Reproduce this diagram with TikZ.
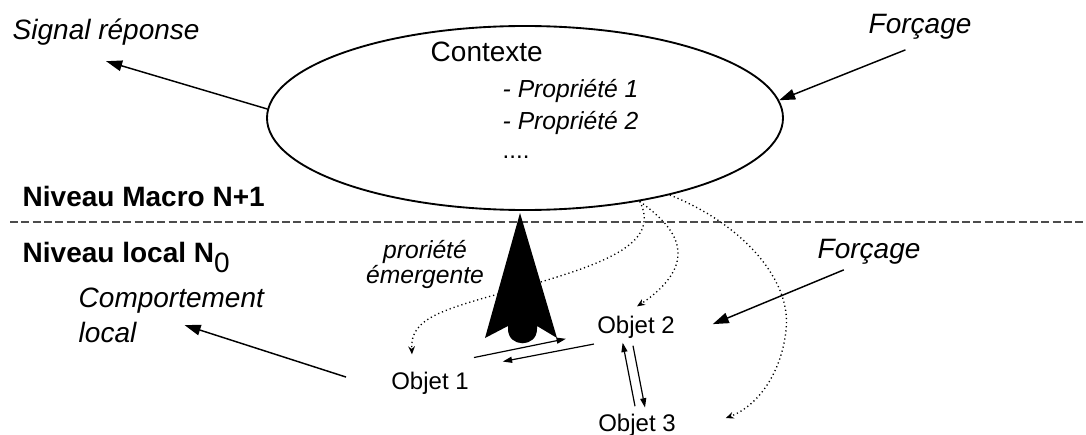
\documentclass[tikz,border=0pt]{standalone}
\usepackage{fontspec}
\setmainfont{Liberation Sans}
\usetikzlibrary{arrows.meta,shapes.geometric}

\begin{document}
\begin{tikzpicture}[x=0.75pt, y=-0.75pt, line width=1.1pt,
  gros/.style={font=\fontsize{21}{26}\selectfont, inner sep=0pt},
  grosit/.style={font=\fontsize{21}{26.25}\selectfont\itshape, inner sep=0pt},
  petit/.style={font=\fontsize{18}{21}\selectfont, inner sep=0pt},
  fleche/.style={-{Triangle[length=12pt,width=8pt]}},
  fine/.style={line width=0.9pt, -{Triangle[length=7pt,width=4.5pt]}},
  pointille/.style={line width=1pt, dash pattern=on 0.9pt off 2.2pt,
    -{Stealth[length=6pt,width=5pt]}}]

  \useasboundingbox (0,0) rectangle (1086,435);

  % The context (level N+1)
  \node[ellipse, draw, line width=1.4pt, minimum width=387pt, minimum height=138pt]
    (ctx) at (525,118) {};
  \node[gros, anchor=base west] (ctxname) at (430,62) {Contexte};
  \node[petit, font=\fontsize{18.5}{21}\selectfont\itshape, anchor=base west]
    (prop1) at (502,98) {- Propriété 1};
  \node[petit, font=\fontsize{18.5}{21}\selectfont\itshape, anchor=base west]
    (prop2) at (502,130) {- Propriété 2};
  \node[petit, anchor=base west] (propdots) at (502,158) {....};

  % Labels outside
  \node[grosit, anchor=base west] (signal) at (12,40) {Signal réponse};
  \node[grosit, anchor=base west] (force1) at (868,34) {Forçage};
  \node[grosit, anchor=base west] (force2) at (817,258) {Forçage};
  \node[grosit, align=left, anchor=north west] (comp) at (78,287) {Comportement\\local};
  \node[font=\fontsize{18.5}{17.25}\selectfont\itshape, inner sep=0pt, align=center,
    anchor=north] (emerg) at (425,240) {proriété\\émergente};

  % The two levels
  \node[gros, font=\fontsize{21}{26}\selectfont\bfseries, anchor=base west]
    (macro) at (22,206) {Niveau Macro N+1};
  \node[gros, font=\fontsize{21}{26}\selectfont\bfseries, anchor=base west]
    (local) at (22,262) {Niveau local N\raisebox{-8pt}{\mdseries 0}};
  \draw[black!70, line width=1pt, dash pattern=on 6pt off 2.5pt] (10,222) -- (1086,222);

  % Objects of level N0
  \node[petit, anchor=base] (obj1) at (430,389) {Objet 1};
  \node[petit, anchor=base] (obj2) at (636,333) {Objet 2};
  \node[petit, anchor=base] (obj3) at (637,431) {Objet 3};

  % Dotted influence of the context on the objects
  \draw[pointille] (ctx.-36) .. controls (662,245) and (600,265) .. (520,288)
    .. controls (440,310) and (410,318) .. ([xshift=-13.5pt,yshift=12.4pt]obj1.north);
  \draw[pointille] (ctx.-36) .. controls (668,222) and (682,240) .. (677,262)
    .. controls (672,282) and (650,298) .. ([xshift=0.75pt,yshift=6.4pt]obj2.north);
  \draw[pointille] (ctx.-28) .. controls (745,225) and (792,282) .. (786,330)
    .. controls (782,370) and (760,405) .. ([xshift=37pt,yshift=5pt]obj3.east);

  % Emergent property
  \fill (520,213) -- (557,338) -- (537,326) -- (537,329)
    .. controls (537,348) and (508,348) .. (508,329) -- (508,326) -- (485,338) -- cycle;

  % Interactions between objects
  \draw[fine] ([xshift=3.4pt,yshift=10pt]obj1.north east) -- ([xshift=-23pt,yshift=-9pt]obj2.west);
  \draw[fine] ([xshift=-2pt,yshift=-4pt]obj2.south west) -- ([xshift=25pt,yshift=7pt]obj1.north east);
  \draw[fine] ([xshift=-1.5pt,yshift=5pt]obj3.north) -- ([xshift=-10pt,yshift=-3pt]obj2.south);
  \draw[fine] ([xshift=-2.25pt,yshift=-5.25pt]obj2.south) -- ([xshift=6pt,yshift=4pt]obj3.north);

  % Signals and forcings
  \draw[fleche] (ctx.178) -- ([yshift=-11pt]signal.south);
  \draw[fleche] ([xshift=-11pt,yshift=-7pt]force1.south) -- (ctx.4);
  \draw[fleche] ([xshift=-19pt,yshift=-4pt]force2.south) -- ([xshift=28pt,yshift=2pt]obj2.east);
  \draw[fleche] ([xshift=-33.4pt,yshift=4.3pt]obj1.west) -- ([xshift=-60pt,yshift=-7.5pt]comp.east);

\end{tikzpicture}
\end{document}
